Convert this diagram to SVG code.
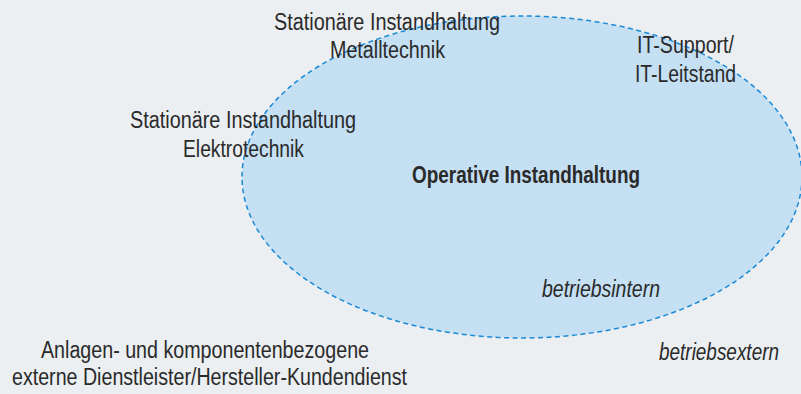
<svg xmlns="http://www.w3.org/2000/svg" width="801" height="394" viewBox="0 0 801 394">
<style>
.t{font-family:"Liberation Sans",Arial,sans-serif;font-size:23.5px;fill:#2a2a2a;text-anchor:start}
.b{font-weight:bold}
.i{font-style:italic}
</style>
<rect x="0" y="0" width="801" height="394" fill="#ebeff2"/>
<g id="intern">
<ellipse cx="522" cy="177" rx="280" ry="161" fill="#c5dff3" stroke="#1a8ad6" stroke-width="1.5" stroke-dasharray="5 3.5"/>
</g>
<g id="metall">
<text class="t" x="274" y="30" textLength="226" lengthAdjust="spacingAndGlyphs">Stationäre Instandhaltung</text>
<text class="t" x="330" y="58" textLength="115" lengthAdjust="spacingAndGlyphs">Metalltechnik</text>
</g>
<g id="it">
<text class="t" x="637" y="53" textLength="97" lengthAdjust="spacingAndGlyphs">IT-Support/</text>
<text class="t" x="635" y="82" textLength="101" lengthAdjust="spacingAndGlyphs">IT-Leitstand</text>
</g>
<g id="elektro">
<text class="t" x="130" y="128" textLength="226" lengthAdjust="spacingAndGlyphs">Stationäre Instandhaltung</text>
<text class="t" x="183" y="157" textLength="121" lengthAdjust="spacingAndGlyphs">Elektrotechnik</text>
</g>
<g id="operativ">
<text class="t b" x="412" y="183" textLength="228" lengthAdjust="spacingAndGlyphs">Operative Instandhaltung</text>
</g>
<g id="betriebsintern">
<text class="t i" x="542" y="297" textLength="118" lengthAdjust="spacingAndGlyphs">betriebsintern</text>
</g>
<g id="extern-dienstleister">
<text class="t" x="41" y="358" textLength="328" lengthAdjust="spacingAndGlyphs">Anlagen- und komponentenbezogene</text>
<text class="t" x="12" y="385" textLength="395" lengthAdjust="spacingAndGlyphs">externe Dienstleister/Hersteller-Kundendienst</text>
</g>
<g id="betriebsextern">
<text class="t i" x="659" y="360" textLength="120" lengthAdjust="spacingAndGlyphs">betriebsextern</text>
</g>
<g id="connectors"/>
</svg>
